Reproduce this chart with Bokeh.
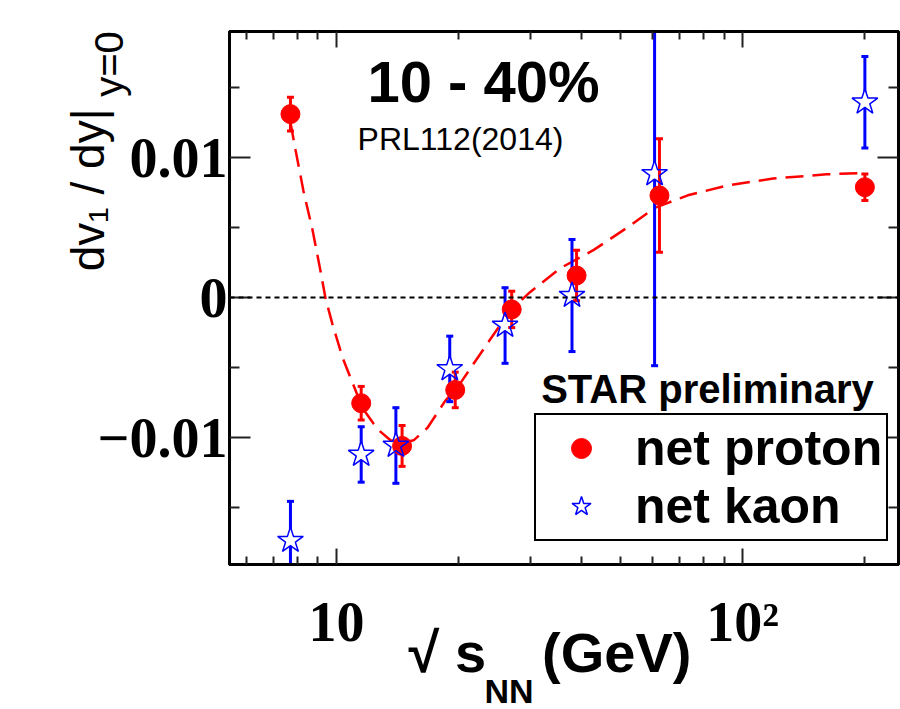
from bokeh.plotting import figure
from bokeh.models import (LogAxis, LinearAxis, FixedTicker, ColumnDataSource, Span,
                          Label, Legend, LegendItem, Range1d, Title)
from bokeh.embed import file_html
from bokeh.resources import INLINE

# ---------------- data ----------------
proton_x = [7.7, 11.5, 14.5, 19.6, 27.0, 39.0, 62.4, 200.0]
proton_y = [0.0131, -0.00755, -0.0106, -0.0066, -0.00085, 0.00157, 0.00729, 0.00788]
proton_err = [0.0012, 0.0012, 0.00146, 0.00127, 0.0013, 0.0018, 0.00405, 0.00095]

kaon_x = [7.7, 11.5, 14.0, 19.0, 26.0, 38.0, 60.7, 200.0]
kaon_y = [-0.01736, -0.01121, -0.01057, -0.0051, -0.0020, 0.00014, 0.00883, 0.01395]
kaon_err = [0.0028, 0.00198, 0.0027, 0.00234, 0.0027, 0.0040, 0.0137, 0.00327]

fit_x = [7.7, 7.93, 8.29, 8.73, 9.13, 9.40, 9.77, 10.35, 10.95, 11.59, 12.33, 12.84,
         13.58, 14.4, 15.48, 16.75, 18.5, 20.2, 23.5, 26.8, 30.0, 35.6, 43.0, 52.0,
         60.7, 73.3, 91.8, 119.0, 161.0, 200.0]
fit_y = [0.0125, 0.0105, 0.0076, 0.0048, 0.0019, -0.0001, -0.0019, -0.0043, -0.0061,
         -0.0079, -0.0090, -0.0096, -0.0102, -0.0104, -0.0102, -0.0093, -0.0074, -0.0061,
         -0.0033, -0.0009, 0.0004, 0.0021, 0.0034, 0.0050, 0.0064, 0.0073, 0.0080,
         0.0085, 0.0088, 0.0089]

x_major = [10, 100]
x_minor = [6, 7, 8, 9, 20, 30, 40, 50, 60, 70, 80, 90, 200]
x_labels = {10: "10", 100: "10\u00b2"}
y_major = [-0.01, 0.0, 0.01]
y_minor = [-0.015, -0.005, 0.005, 0.015]
y_labels = {-0.01: "\u22120.01", 0.0: "0", 0.01: "0.01"}

# titles (the wide leading/trailing spaces only position the visible text)
x_title = "\u221a s\u2002\u2002(GeV)\u2002"
x_title_sub = "NN"
y_title = "\u2003" * 4 + "\u2002\u2009" + "dv\u2081 / dy|"
y_title_sub = "\u2003" * 11 + "\u2002\u2009" + "y=0"

RED = "#ff0000"
BLUE = "#0000ff"

p = figure(width=900, height=709, x_axis_type="log",
           x_range=Range1d(5.45, 242), y_range=Range1d(-0.01907, 0.0190),
           output_backend="svg", toolbar_location=None,
           min_border_left=229, min_border_right=2, min_border_top=31, min_border_bottom=145)
p.grid.visible = False
p.outline_line_color = "black"
p.outline_line_width = 3
p.background_fill_color = "white"
p.border_fill_color = "white"

def style_common(ax, tin, tmin):
    ax.axis_line_width = 3
    ax.axis_line_color = "black"
    ax.major_tick_in = tin
    ax.major_tick_out = 0
    ax.minor_tick_in = tmin
    ax.minor_tick_out = 0
    ax.major_tick_line_width = 2
    ax.minor_tick_line_width = 2
    ax.major_tick_line_color = "#222222"
    ax.minor_tick_line_color = "#222222"
    ax.major_label_text_color = "black"
    ax.major_label_text_font = "Liberation Serif"
    ax.major_label_text_font_style = "bold"

def style_x(ax, labels=True):
    ax.ticker = FixedTicker(ticks=x_major, minor_ticks=x_minor)
    style_common(ax, 16, 8)
    if labels:
        ax.major_label_overrides = x_labels
        ax.major_label_text_font_size = "56px"
        ax.major_label_standoff = 26
    else:
        ax.major_label_overrides = {k: "" for k in x_labels}
        ax.major_label_text_font_size = "1px"
        ax.major_label_standoff = 0

def style_y(ax, labels=True):
    ax.ticker = FixedTicker(ticks=y_major, minor_ticks=y_minor)
    style_common(ax, 21, 10)
    if labels:
        ax.major_label_overrides = y_labels
        ax.major_label_text_font_size = "56px"
        ax.major_label_standoff = 2
    else:
        ax.major_label_overrides = {k: "" for k in y_labels}
        ax.major_label_text_font_size = "1px"
        ax.major_label_standoff = 0

xa = p.xaxis[0]
style_x(xa)
xa.axis_label = x_title
xa.axis_label_text_font = "Liberation Sans"
xa.axis_label_text_font_style = "bold"
xa.axis_label_text_font_size = "56px"
xa.axis_label_text_color = "black"
xa.axis_label_standoff = -35

ya = p.yaxis[0]
style_y(ya)
ya.axis_label = y_title_sub
ya.axis_label_text_font = "Liberation Sans"
ya.axis_label_text_font_style = "normal"
ya.axis_label_text_font_size = "40px"
ya.axis_label_text_color = "black"
ya.axis_label_standoff = -36
ya.axis_label_align = "center"

top_ax = LogAxis()
style_x(top_ax, labels=False)
p.add_layout(top_ax, "above")
right_ax = LinearAxis()
style_y(right_ax, labels=False)
p.add_layout(right_ax, "right")

# outer left axis: carries the main part of the y title
ya2 = LinearAxis(ticker=FixedTicker(ticks=[], minor_ticks=[]))
ya2.axis_line_color = None
ya2.major_tick_line_color = None
ya2.minor_tick_line_color = None
ya2.major_tick_in = 0
ya2.major_tick_out = 0
ya2.minor_tick_in = 0
ya2.minor_tick_out = 0
ya2.major_label_text_font_size = "1px"
ya2.major_label_standoff = 0
ya2.axis_label = y_title
ya2.axis_label_text_font = "Liberation Sans"
ya2.axis_label_text_font_style = "normal"
ya2.axis_label_text_font_size = "46px"
ya2.axis_label_text_color = "black"
ya2.axis_label_standoff = -30
ya2.axis_label_align = "center"
p.add_layout(ya2, "left")

# subscript of the x title
p.add_layout(Title(text=x_title_sub, align="left", offset=255, vertical_align="top",
                   standoff=-29, text_font="Liberation Sans", text_font_style="bold",
                   text_font_size="34px", text_color="black"), "below")

# zero line
p.add_layout(Span(location=0, dimension="width", line_color="black",
                  line_width=2, line_dash="5 4"))

# sources
psrc = ColumnDataSource(dict(x=proton_x, y=proton_y,
                             lo=[v - e for v, e in zip(proton_y, proton_err)],
                             hi=[v + e for v, e in zip(proton_y, proton_err)]))
ksrc = ColumnDataSource(dict(x=kaon_x, y=kaon_y,
                             lo=[v - e for v, e in zip(kaon_y, kaon_err)],
                             hi=[v + e for v, e in zip(kaon_y, kaon_err)]))

# fit curve
p.line(fit_x, fit_y, line_color=RED, line_width=2.5, line_dash="18 9")

# kaon error bars
p.segment(x0="x", y0="lo", x1="x", y1="hi", source=ksrc, line_color=BLUE, line_width=3)
p.scatter(x="x", y="lo", source=ksrc, marker="dash", size=7, line_color=BLUE, line_width=3)
p.scatter(x="x", y="hi", source=ksrc, marker="dash", size=7, line_color=BLUE, line_width=3)
p.scatter(x="x", y="y", source=ksrc, marker="star", size=27, fill_color="white",
          line_color=None)

# proton error bars + points
p.segment(x0="x", y0="lo", x1="x", y1="hi", source=psrc, line_color=RED, line_width=3)
p.scatter(x="x", y="lo", source=psrc, marker="dash", size=7, line_color=RED, line_width=3)
p.scatter(x="x", y="hi", source=psrc, marker="dash", size=7, line_color=RED, line_width=3)
r_p = p.scatter(x="x", y="y", source=psrc, marker="circle", size=19,
                fill_color=RED, line_color=RED)

r_k = p.scatter(x="x", y="y", source=ksrc, marker="star", size=27, fill_color=None,
                line_color=BLUE, line_width=1.5)

# legend
leg = Legend(items=[LegendItem(label="net proton", renderers=[r_p]),
                    LegendItem(label="net kaon", renderers=[r_k])],
             location=(305, 23), orientation="vertical",
             border_line_color="black", border_line_width=2, border_line_alpha=1.0,
             background_fill_color="white", background_fill_alpha=1.0,
             label_text_font="Liberation Sans", label_text_font_style="bold",
             label_text_font_size="50px", label_text_color="black",
             padding=4, margin=0,
             glyph_width=82, glyph_height=50, label_height=50,
             label_standoff=13, spacing=0)
p.add_layout(leg)

# texts inside the frame (page px -> frame screen units)
FL, FB = 229, 564
def lab(text, px, py, size, bold=False, align="left"):
    p.add_layout(Label(x=px - FL, y=FB - py, x_units="screen", y_units="screen",
                       text=text, text_font="Liberation Sans", text_font_size=f"{size}px",
                       text_font_style="bold" if bold else "normal",
                       text_align=align, text_baseline="alphabetic", text_color="black"))

lab("10 - 40%", 483, 81, 58, bold=True, align="center")
lab("PRL112(2014)", 460, 138, 32, align="center")
lab("STAR preliminary", 707, 388, 40, bold=True, align="center")

open("out.html", "w").write(file_html(p, INLINE))
